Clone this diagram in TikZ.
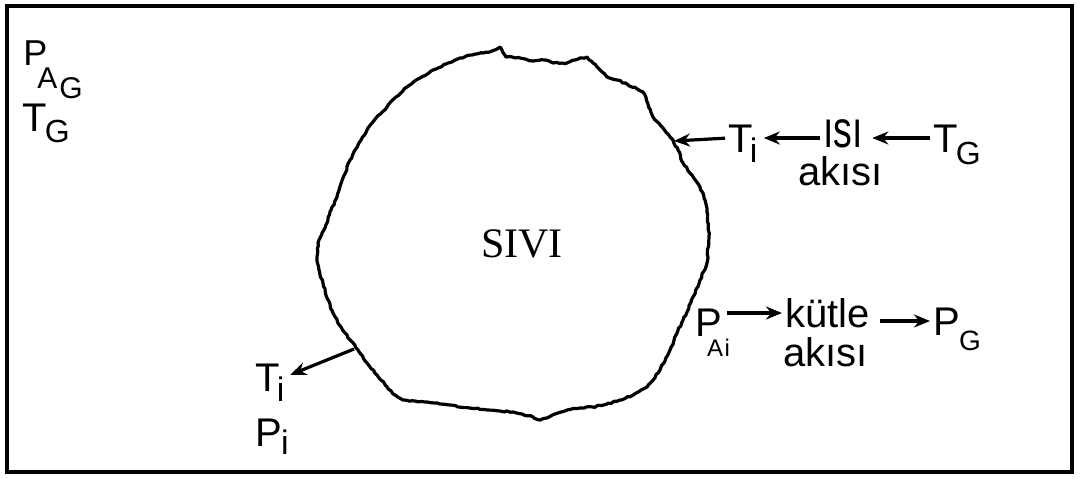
\documentclass[tikz,border=0pt]{standalone}
\usepackage{fontspec}
\setmainfont{Liberation Sans}
\newfontfamily\serifont{Liberation Serif}
\usetikzlibrary{arrows.meta,decorations.pathmorphing}
\newcommand\subx[4][0pt]{\kern#1\raisebox{-#2}{\fontsize{#3}{#3}\selectfont #4}}
\begin{document}
\begin{tikzpicture}[x=0.5pt,y=-0.5pt,
  lbl/.style={font=\fontsize{20}{24}\selectfont, inner sep=0pt, text height=14pt, text depth=0pt, anchor=west},
  arr/.style={line width=1.6pt,-{Stealth[length=8pt,width=6.5pt]}},
  blob/.style={line width=1.6pt,line join=round,
    decorate,decoration={random steps,segment length=1.5pt,amplitude=0.35pt}},
  frame/.style={line width=2.2pt}]
\pgfmathsetseed{7}
\useasboundingbox (0,0) rectangle (1080,478);
\fill[white] (0,0) rectangle (1080,478);
\draw[frame] (7,6) rectangle (1072,472);

% liquid drop outline
\draw[blob] (500,47) -- (506,57) -- (520,58) -- (533,61) -- (545,60) -- (553,63) -- (567,63) -- (578,59) -- (587,57) -- (593,63) -- (600,70) -- (607,77) -- (617,80) -- (627,84) -- (643,92) -- (648,104) -- (653,117) -- (663,128) -- (673,140) -- (678,150) -- (683,163) -- (692,175) -- (700,187) -- (705,200) -- (707,212) -- (709,237) -- (707,263) -- (700,280) -- (693,297) -- (688,310) -- (683,320) -- (676,335) -- (670,350) -- (660,370) -- (647,387) -- (633,395) -- (620,400) -- (607,404) -- (593,407) -- (580,408) -- (567,410) -- (555,414) -- (547,418) -- (540,420) -- (533,417) -- (522,414) -- (513,412) -- (500,411) -- (487,410) -- (470,408) -- (450,405) -- (440,404) -- (427,402) -- (415,401) -- (403,400) -- (395,395) -- (387,387) -- (377,375) -- (367,363) -- (358,350) -- (350,340) -- (341,327) -- (333,313) -- (327,298) -- (323,283) -- (319,270) -- (317,257) -- (318,243) -- (322,233) -- (327,223) -- (331,210) -- (337,197) -- (343,178) -- (350,160) -- (358,145) -- (367,130) -- (376,118) -- (387,107) -- (396,97) -- (407,87) -- (420,78) -- (433,70) -- (446,64) -- (460,58) -- (472,55) -- (483,53) -- (492,51) -- (497,49) -- cycle;
\coordinate (bR) at (674,141);
\coordinate (bL) at (354,349);

\node[font=\serifont\fontsize{21}{24}\selectfont, inner sep=0pt] (sivi) at (522,244) {SIVI};

% labels
\node[lbl, font=\fontsize{18}{20}\selectfont, text height=13pt] (PAG) at (23,52)
  {P\subx[-5pt]{11.5pt}{15}{A\subx[1pt]{5pt}{15}{G}}};
\node[lbl] (TGl) at (22,117) {T\subx[-1pt]{5.5pt}{16}{G}};

\node[lbl] (Ti1) at (728,138) {T\subx[-1.5pt]{5pt}{17}{i}};
\node[lbl, font=\fontsize{26}{28}\selectfont] (isi) at (823,133) {\scalebox{0.72}[1]{ısı}};
\node[lbl] (TGr) at (933,138) {T\subx[-1pt]{6pt}{16}{G}};
\node[lbl, anchor=base west] (ak1) at (798,185) {akısı};

\node[lbl] (PAi) at (695,322) {P\subx[-7.5pt]{10pt}{12}{A\kern0.8pt i}};
\node[lbl, anchor=base west] (kut) at (785,327) {kütle};
\node[lbl, anchor=base west] (ak2) at (783,366) {akısı};
\node[lbl] (PG) at (933,321) {P\subx[-0.5pt]{7.5pt}{14}{G}};

\node[lbl] (Ti2) at (255,377) {T\subx[-1.5pt]{5pt}{17}{i}};
\node[lbl] (Pi) at (255,432) {P\subx[-0.5pt]{4pt}{17}{i}};

% arrows
\draw[arr, shorten <=1.5pt] (Ti1.west) -- (bR);
\draw[arr, shorten <=1.5pt, shorten >=3pt] (isi.west |- Ti1.east) -- (Ti1.east);
\draw[arr, shorten <=1.5pt, shorten >=4.5pt] (TGr.west) -- (isi.east |- TGr.west);
\draw[arr, shorten >=1.5pt] ([xshift=16pt]PAi.west |- kut.west) -- (kut.west);
\draw[arr, shorten <=5pt, shorten >=1.5pt] (kut.east |- PG.west) -- (PG.west);
\draw[arr, shorten >=3pt] (bL) -- (Ti2.east);
\end{tikzpicture}
\end{document}
